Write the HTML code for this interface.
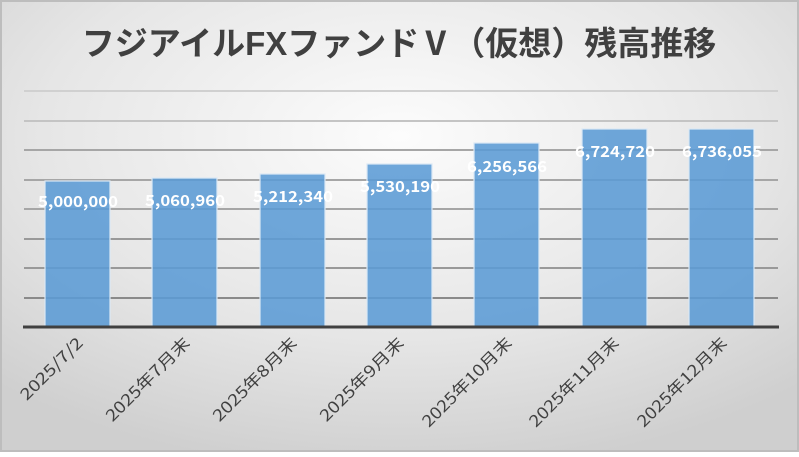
<!DOCTYPE html>
<html><head><meta charset="utf-8"><style>
html,body{margin:0;padding:0;}
body{width:799px;height:452px;overflow:hidden;}
</style></head><body>
<svg width="799" height="452" xmlns="http://www.w3.org/2000/svg" font-family="'Noto Sans CJK JP',sans-serif">
<defs>
<radialGradient id="bg" cx="0.5" cy="0.3" r="0.75">
<stop offset="0" stop-color="#fcfcfc"/><stop offset="0.6" stop-color="#e6e6e6"/><stop offset="1" stop-color="#cfcfcf"/>
</radialGradient>
</defs>
<rect x="0" y="0" width="799" height="452" fill="#bdbdbd"/>
<rect x="2" y="2" width="795" height="448" fill="url(#bg)"/>
<text x="399" y="55" text-anchor="middle" font-size="33" font-weight="bold" fill="#404040" font-family="'Liberation Sans','Noto Sans CJK JP',sans-serif">フジアイルFXファンドⅤ（仮想）残高推移</text>
<g stroke="#a6a6a6" stroke-width="2">
<line x1="24" x2="778" y1="91" y2="91" stroke="#d0d0d0"/>
<line x1="24" x2="778" y1="121" y2="121" stroke="#c4c4c4"/>
<line x1="24" x2="778" y1="150" y2="150"/>
<line x1="24" x2="778" y1="180" y2="180"/>
<line x1="24" x2="778" y1="209" y2="209"/>
<line x1="24" x2="778" y1="239" y2="239" stroke="#999"/>
<line x1="24" x2="778" y1="268" y2="268" stroke="#999"/>
<line x1="24" x2="778" y1="298" y2="298" stroke="#8a8a8a"/>
</g>
<g fill="#5b9bd5" fill-opacity="0.88" stroke="#dbe8f5" stroke-width="1.2">
<rect x="45" y="181" width="65" height="146"/>
<rect x="152" y="178" width="65" height="149"/>
<rect x="260" y="174" width="65" height="153"/>
<rect x="367" y="164" width="65" height="163"/>
<rect x="474" y="143" width="65" height="184"/>
<rect x="582" y="129" width="65" height="198"/>
<rect x="689" y="129" width="65" height="198"/>
</g>
<line x1="23" x2="779" y1="327" y2="327" stroke="#404040" stroke-width="3"/>
<g fill="#fff" font-size="15.5" font-weight="bold" text-anchor="middle">
<text x="78" y="207" textLength="80" lengthAdjust="spacingAndGlyphs">5,000,000</text>
<text x="185" y="206" textLength="80" lengthAdjust="spacingAndGlyphs">5,060,960</text>
<text x="293" y="202" textLength="80" lengthAdjust="spacingAndGlyphs">5,212,340</text>
<text x="400" y="192" textLength="80" lengthAdjust="spacingAndGlyphs">5,530,190</text>
<text x="507" y="172" textLength="80" lengthAdjust="spacingAndGlyphs">6,256,566</text>
<text x="615" y="157" textLength="80" lengthAdjust="spacingAndGlyphs">6,724,720</text>
<text x="722" y="157" textLength="80" lengthAdjust="spacingAndGlyphs">6,736,055</text>
</g>
<g fill="#404040" font-size="16" text-anchor="end">
<text transform="translate(84,344) rotate(-45)" textLength="81" lengthAdjust="spacingAndGlyphs">2025/7/2</text>
<text transform="translate(191,344) rotate(-45)" textLength="111" lengthAdjust="spacingAndGlyphs">2025年7月末</text>
<text transform="translate(298,344) rotate(-45)" textLength="111" lengthAdjust="spacingAndGlyphs">2025年8月末</text>
<text transform="translate(405,344) rotate(-45)" textLength="111" lengthAdjust="spacingAndGlyphs">2025年9月末</text>
<text transform="translate(513,344) rotate(-45)" textLength="119" lengthAdjust="spacingAndGlyphs">2025年10月末</text>
<text transform="translate(620,344) rotate(-45)" textLength="119" lengthAdjust="spacingAndGlyphs">2025年11月末</text>
<text transform="translate(728,344) rotate(-45)" textLength="119" lengthAdjust="spacingAndGlyphs">2025年12月末</text>
</g>
</svg>
</body></html>
